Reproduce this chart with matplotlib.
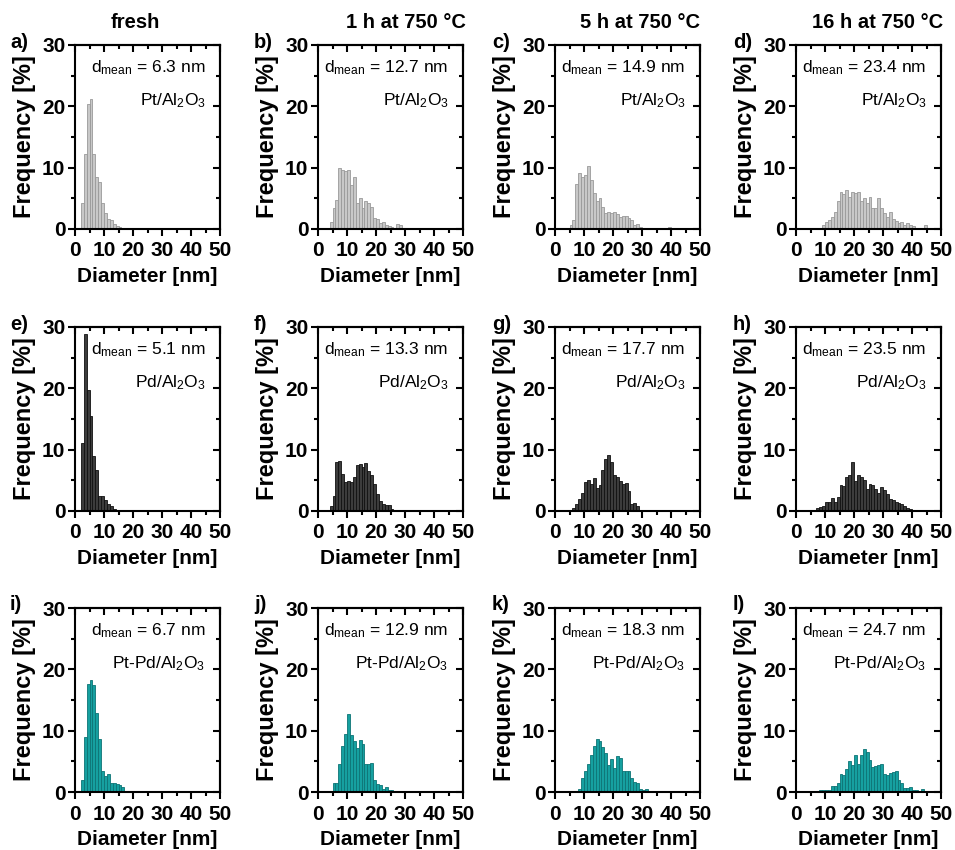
import matplotlib
matplotlib.use("Agg")
import matplotlib.pyplot as plt
from matplotlib.ticker import MultipleLocator

plt.rcParams["font.family"] = ["Liberation Sans", "DejaVu Sans"]
plt.rcParams["mathtext.fontset"] = "custom"
plt.rcParams["mathtext.rm"] = "Liberation Sans"
plt.rcParams["mathtext.it"] = "Liberation Sans:italic"
plt.rcParams["mathtext.bf"] = "Liberation Sans:bold"

# column titles and panel labels
col_titles = ["fresh", "1 h at 750 °C", "5 h at 750 °C", "16 h at 750 °C"]
panel_letters = ["a)", "b)", "c)", "d)", "e)", "f)", "g)", "h)", "i)", "j)", "k)", "l)"]
samples = ["Pt/Al$_\\mathregular{2}$O$_\\mathregular{3}$",
           "Pd/Al$_\\mathregular{2}$O$_\\mathregular{3}$",
           "Pt-Pd/Al$_\\mathregular{2}$O$_\\mathregular{3}$"]
d_mean = [[6.3, 12.7, 14.9, 23.4],
          [5.1, 13.3, 17.7, 23.5],
          [6.7, 12.9, 18.3, 24.7]]

# histogram data: first bin edge [nm] and frequencies [%] of 1 nm bins
pt_fresh_start = 2
pt_fresh = [4.2, 12.3, 20.4, 21.2, 12.3, 8.5, 7.7, 4.3, 2.6, 1.6, 1.5, 0.8, 0.5,
            0.3, 0.0, 0.1, 0.1, 0.1, 0.1, 0.1]
pt_1h_start = 4
pt_1h = [1.2, 3.4, 4.8, 10.0, 9.7, 9.5, 9.7, 7.2, 8.5, 4.2, 5.0, 3.4, 4.5, 4.2,
         3.6, 1.8, 1.6, 1.0, 1.2, 0.7, 0.5, 0.4, 0.2, 0.8, 0.6, 0.2, 0.1, 0.1, 0.1]
pt_5h_start = 5
pt_5h = [0.7, 1.5, 7.4, 9.1, 8.4, 8.8, 10.3, 8.0, 5.8, 4.5, 5.0, 3.6, 2.6, 2.8,
         2.6, 2.7, 2.4, 2.0, 2.1, 2.1, 1.8, 1.5, 0.7, 0.8, 0.4, 0.2, 0.2, 0.2,
         0.1, 0.1, 0.0, 0.0, 0.0, 0.0, 0.3]
pt_16h_start = 9
pt_16h = [0.7, 1.2, 1.5, 2.0, 2.7, 4.6, 6.1, 5.7, 6.4, 5.2, 6.0, 5.8, 6.1, 4.6,
          5.1, 4.2, 5.2, 3.4, 3.5, 5.0, 3.4, 2.6, 2.0, 2.7, 1.6, 1.3, 1.0, 1.2,
          0.7, 0.9, 0.7, 0.5, 0.1, 0.1, 0.0, 0.7, 0.2]

pd_fresh_start = 2
pd_fresh = [11.1, 28.8, 19.8, 15.5, 9.0, 6.7, 2.5, 2.4, 1.8, 1.2, 0.8, 0.4, 0.2,
            0.1, 0.1]
pd_1h_start = 4
pd_1h = [0.8, 2.5, 8.0, 8.1, 6.0, 4.7, 4.9, 4.7, 5.5, 7.5, 7.6, 7.1, 7.8, 6.6,
         5.8, 4.4, 2.7, 1.6, 1.1, 1.0, 0.9, 0.3, 0.15, 0.15, 0.1]
pd_5h_start = 6
pd_5h = [0.5, 1.2, 1.9, 3.0, 4.8, 5.1, 4.4, 5.4, 3.7, 4.3, 6.7, 8.4, 9.2, 8.0,
         5.8, 5.5, 4.9, 4.4, 4.6, 3.3, 1.2, 1.3, 0.8, 0.2]
pd_16h_start = 7
pd_16h = [0.5, 0.7, 0.8, 1.4, 1.4, 2.2, 1.4, 2.3, 4.2, 4.0, 5.5, 5.9, 8.0, 4.9,
          5.9, 5.5, 5.1, 3.6, 4.4, 4.2, 3.6, 3.0, 3.9, 3.4, 2.7, 2.0, 1.8, 1.4,
          1.3, 1.2, 0.8, 0.5, 0.3, 0.2, 0.15, 0.1, 0.0, 0.1]

ptpd_fresh_start = 2
ptpd_fresh = [2.0, 9.0, 17.6, 18.3, 17.4, 12.8, 8.7, 3.5, 2.6, 2.9, 1.5, 1.4,
              1.3, 1.1, 0.8]
ptpd_1h_start = 5
ptpd_1h = [1.5, 1.5, 4.5, 7.5, 9.4, 12.7, 9.3, 8.3, 7.1, 8.4, 7.9, 4.6, 4.6,
           4.7, 2.0, 1.3, 1.1, 0.5, 0.8, 0.4, 0.3, 0.1, 0.1]
ptpd_5h_start = 8
ptpd_5h = [0.5, 2.3, 3.4, 4.5, 6.0, 7.5, 8.6, 8.3, 7.4, 6.3, 4.4, 5.4, 3.9, 5.9,
           5.6, 3.5, 3.4, 3.4, 2.3, 1.6, 1.4, 0.5, 0.4, 0.5, 0.1, 0.1]
ptpd_16h_start = 6
ptpd_16h = [0.15, 0.15, 0.3, 0.3, 0.3, 0.4, 0.9, 1.0, 1.5, 3.0, 2.7, 3.8, 5.1,
            4.4, 6.0, 4.6, 6.1, 7.0, 6.5, 5.2, 4.1, 4.2, 4.4, 4.5, 3.0, 2.8,
            3.1, 3.2, 3.4, 1.9, 1.4, 0.7, 0.7, 0.8, 0.4, 0.4, 0.2, 0.5, 0.2]

rows = [
    [(pt_fresh_start, pt_fresh), (pt_1h_start, pt_1h),
     (pt_5h_start, pt_5h), (pt_16h_start, pt_16h)],
    [(pd_fresh_start, pd_fresh), (pd_1h_start, pd_1h),
     (pd_5h_start, pd_5h), (pd_16h_start, pd_16h)],
    [(ptpd_fresh_start, ptpd_fresh), (ptpd_1h_start, ptpd_1h),
     (ptpd_5h_start, ptpd_5h), (ptpd_16h_start, ptpd_16h)],
]
face_colors = ["#c8c8c8", "#3c3c3c", "#16a0a0"]
edge_colors = ["#999999", "#111111", "#0d7475"]

W, H = 955, 850
fig = plt.figure(figsize=(W / 100, H / 100), dpi=100)

col_left = [75, 318, 555, 796]   # px
row_top = [45, 327, 608]         # px
ax_w, ax_h = 145, 184

title_x = [135, 406, 640, 878]
letter_x = [10, 254, 492, 733]

for c, t in enumerate(col_titles):
    fig.text(title_x[c] / W, 1 - 22 / H, t, ha="center", va="center",
             fontsize=14.5, fontweight="bold")

for r in range(3):
    for c in range(4):
        left = col_left[c] / W
        bottom = 1 - (row_top[r] + ax_h) / H
        ax = fig.add_axes([left, bottom, ax_w / W, ax_h / H])
        start, freq = rows[r][c]
        edges = [start + i for i in range(len(freq))]
        ax.bar(edges, freq, width=1, align="edge", color=face_colors[r],
               edgecolor=edge_colors[r], linewidth=0.6)
        ax.set_xlim(0, 50)
        ax.set_ylim(0, 30)
        ax.xaxis.set_major_locator(MultipleLocator(10))
        ax.xaxis.set_minor_locator(MultipleLocator(5))
        ax.yaxis.set_major_locator(MultipleLocator(10))
        ax.yaxis.set_minor_locator(MultipleLocator(5))
        ax.tick_params(which="both", direction="out", width=1.5,
                       labelsize=15, pad=2)
        ax.tick_params(axis="x", pad=4)
        ax.tick_params(which="major", length=5)
        ax.tick_params(which="minor", length=3)
        for lab in ax.get_xticklabels() + ax.get_yticklabels():
            lab.set_fontweight("bold")
        for sp in ax.spines.values():
            sp.set_linewidth(1.5)

        # mirrored inward ticks on top and right
        top = ax.secondary_xaxis("top")
        top.xaxis.set_major_locator(MultipleLocator(10))
        top.xaxis.set_minor_locator(MultipleLocator(5))
        top.tick_params(which="both", direction="in", width=1.5, labeltop=False)
        top.tick_params(which="major", length=5)
        top.tick_params(which="minor", length=3)
        top.spines["top"].set_linewidth(1.5)
        right = ax.secondary_yaxis("right")
        right.yaxis.set_major_locator(MultipleLocator(10))
        right.yaxis.set_minor_locator(MultipleLocator(5))
        right.tick_params(which="both", direction="in", width=1.5,
                          labelright=False)
        right.tick_params(which="major", length=5)
        right.tick_params(which="minor", length=3)
        right.spines["right"].set_linewidth(1.5)

        ax.set_xlabel("Diameter [nm]", fontsize=15, fontweight="bold",
                      labelpad=5)
        ax.set_ylabel("Frequency [%]", fontsize=17, fontweight="bold",
                      labelpad=4)

        ax.text(0.90, 0.875, "d$_\\mathregular{mean}$ = %.1f nm" % d_mean[r][c],
                transform=ax.transAxes, ha="right", va="center", fontsize=12.5)
        ax.text(0.90, 0.70, samples[r], transform=ax.transAxes,
                ha="right", va="center", fontsize=12.5)

        fig.text(letter_x[c] / W, 1 - (row_top[r] - 3) / H,
                 panel_letters[r * 4 + c], ha="left", va="center",
                 fontsize=14.5, fontweight="bold")

fig.savefig("out.png", dpi=100)
